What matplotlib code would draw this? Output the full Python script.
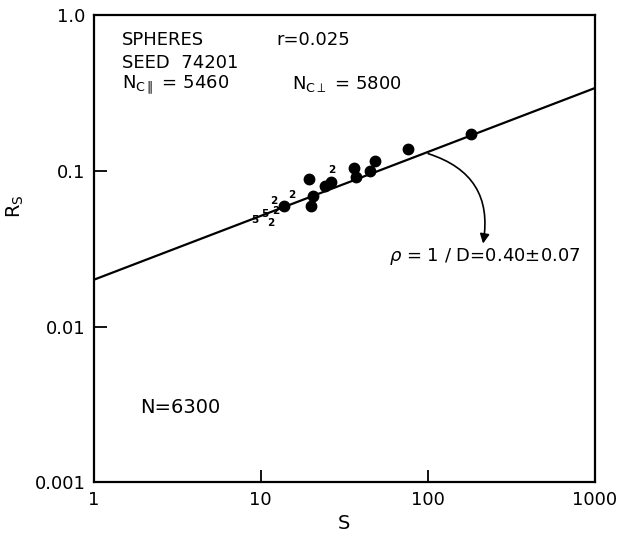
import numpy as np
import matplotlib
matplotlib.use("Agg")
import matplotlib.pyplot as plt

# measured points (S, Rs)
s_pts = [181, 76.4, 48.5, 36.2, 45.0, 37.4, 26.2, 24.2, 19.4, 20.6, 20.1, 13.7]
rs_pts = [0.172, 0.139, 0.116, 0.105, 0.100, 0.092, 0.0844, 0.0794, 0.089, 0.069, 0.0593, 0.0593]

# multiplicity labels drawn as digits (S, Rs, label)
mult_s = [9.2, 10.5, 12.0, 12.3, 11.5, 15.3, 26.6]
mult_rs = [0.0486, 0.0531, 0.0645, 0.0556, 0.0462, 0.0697, 0.1016]
mult_lab = ["5", "5", "2", "2", "2", "2", "2"]

# fitted power law Rs = a * S^rho
fit_a = 0.020
fit_rho = 0.41

x_ticks = [1, 10, 100, 1000]
x_labels = ["1", "10", "100", "1000"]
y_ticks = [0.001, 0.01, 0.1, 1.0]
y_labels = ["0.001", "0.01", "0.1", "1.0"]

plt.rcParams['font.family'] = ['DejaVu Sans']
plt.rcParams['mathtext.fontset'] = 'dejavusans'

fig = plt.figure(figsize=(6.34, 5.39), dpi=100)
ax = fig.add_axes([0.148, 0.105, 0.79, 0.867])

# fit line
xs = np.logspace(0, 3, 50)
ax.plot(xs, fit_a * xs ** fit_rho, color='black', lw=1.6)

# data points
ax.plot(s_pts, rs_pts, 'o', color='black', ms=7.5, zorder=3)
for sx, ry, lab in zip(mult_s, mult_rs, mult_lab):
    ax.text(sx, ry, lab, fontsize=7.5, fontweight='bold', ha='center', va='center')

ax.set_xscale('log')
ax.set_yscale('log')
ax.set_xlim(1, 1000)
ax.set_ylim(0.001, 1.0)
ax.set_xticks(x_ticks, x_labels)
ax.set_yticks(y_ticks, y_labels)
ax.minorticks_off()
ax.tick_params(direction='in', length=9, width=1.3, labelsize=13, pad=6)
for sp in ax.spines.values():
    sp.set_linewidth(1.6)

ax.set_xlabel('S', fontsize=14, labelpad=4)
ax.set_ylabel(r'R$_\mathrm{S}$', fontsize=14)
ax.yaxis.set_label_coords(-0.135, 0.59)

# annotations
tk = dict(fontsize=13, transform=ax.transAxes, va='center')
ax.text(0.056, 0.946, 'SPHERES', **tk)
ax.text(0.365, 0.946, 'r=0.025', **tk)
ax.text(0.056, 0.897, 'SEED  74201', **tk)
ax.text(0.056, 0.852, r'N$_{\mathrm{C}\parallel}$ = 5460', **tk)
ax.text(0.395, 0.852, r'N$_{\mathrm{C}\perp}$ = 5800', **tk)
ax.text(0.092, 0.161, 'N=6300', fontsize=14, transform=ax.transAxes, va='center')

x0 = 97
ax.annotate('', xy=(213, 0.0328), xytext=(x0, fit_a * x0 ** fit_rho),
            arrowprops=dict(arrowstyle='-|>', color='black', lw=1.2,
                            connectionstyle='arc3,rad=-0.45', mutation_scale=14))
ax.text(0.78, 0.484, r'$\rho$ = 1 / D=0.40$\pm$0.07', fontsize=13,
        transform=ax.transAxes, ha='center', va='center')

fig.savefig('out.png', dpi=100)
